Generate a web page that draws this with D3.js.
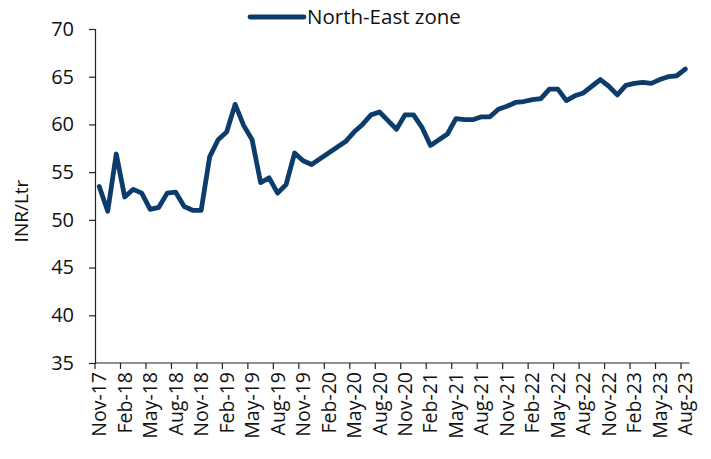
<!DOCTYPE html>
<html>
<head>
<meta charset="utf-8">
<script src="https://cdn.jsdelivr.net/npm/d3@7"></script>
<style>
  body { margin: 0; background: #fff; }
  text { font-family: "Open Sans", "Noto Sans", sans-serif; fill: #111; }
</style>
</head>
<body>
<div id="chart"></div>
<script>
// months Nov-17 .. Aug-23
const monthNames = ["Jan","Feb","Mar","Apr","May","Jun","Jul","Aug","Sep","Oct","Nov","Dec"];
const months = [];
for (let k = 0; k < 70; k++) {
  const m = (10 + k) % 12;
  const yr = 17 + Math.floor((10 + k) / 12);
  months.push(monthNames[m] + "-" + yr);
}

// price, INR/Ltr
const northEast = [
  53.5, 50.9, 56.9, 52.4, 53.2, 52.8, 51.1, 51.3, 52.8, 52.9,
  51.4, 51.0, 51.0, 56.6, 58.4, 59.2, 62.1, 59.9, 58.4, 53.9,
  54.4, 52.8, 53.7, 57.0, 56.2, 55.8, 56.4, 57.0, 57.6, 58.2,
  59.2, 60.0, 61.0, 61.3, 60.4, 59.5, 61.0, 61.0, 59.7, 57.8,
  58.4, 59.0, 60.6, 60.5, 60.5, 60.8, 60.8, 61.6, 61.9, 62.3,
  62.4, 62.6, 62.7, 63.7, 63.7, 62.5, 63.0, 63.3, 64.0, 64.7,
  64.0, 63.1, 64.1, 64.3, 64.4, 64.3, 64.7, 65.0, 65.1, 65.8
];

const yTicks = [35, 40, 45, 50, 55, 60, 65, 70];
const seriesName = "North-East zone";

const width = 711, height = 459;
const margin = {left: 95, right: 21.5, top: 29, bottom: 96};
const lineColor = "#0c3c6c";

const svg = d3.select("#chart").append("svg")
  .attr("width", width)
  .attr("height", height);

const x = d3.scaleBand()
  .domain(months)
  .range([margin.left, width - margin.right]);

const y = d3.scaleLinear()
  .domain([35, 70])
  .range([height - margin.bottom, margin.top]);

// y axis
const yAxis = svg.append("g")
  .attr("transform", `translate(${margin.left},0)`)
  .call(d3.axisLeft(y).tickValues(yTicks).tickSize(6).tickPadding(15));
yAxis.select(".domain").attr("stroke", "#222").attr("stroke-width", 1.2);
yAxis.selectAll(".tick line").attr("stroke", "#222").attr("stroke-width", 1.2);
yAxis.selectAll("text").style("font-size", "20px").attr("fill", "#111");

// x axis: ticks on category boundaries every 3 months
const tickMonths = months.filter((d, i) => i % 3 === 0);
const xg = svg.append("g").attr("transform", `translate(0,${y(35)})`);
xg.append("line")
  .attr("x1", margin.left).attr("x2", width - margin.right)
  .attr("stroke", "#222").attr("stroke-width", 1.2);
xg.selectAll(".xt").data(tickMonths).join("line")
  .attr("class", "xt")
  .attr("x1", d => x(d)).attr("x2", d => x(d))
  .attr("y1", 0).attr("y2", 6)
  .attr("stroke", "#222").attr("stroke-width", 1.2);
xg.selectAll(".xl").data(tickMonths).join("text")
  .attr("class", "xl")
  .attr("transform", d => `translate(${x(d) + x.bandwidth() / 2 + 7},9) rotate(-90)`)
  .attr("text-anchor", "end")
  .style("font-size", "19.5px")
  .text(d => d);

// y title
svg.append("text")
  .attr("transform", `translate(28,${(y(35) + y(70)) / 2 + 15}) rotate(-90)`)
  .attr("text-anchor", "middle")
  .style("font-size", "19px")
  .text("INR/Ltr");

// line
const line = d3.line()
  .x((d, i) => x(months[i]) + x.bandwidth() / 2)
  .y(d => y(d));

svg.append("path")
  .datum(northEast)
  .attr("fill", "none")
  .attr("stroke", lineColor)
  .attr("stroke-width", 4.8)
  .attr("stroke-linejoin", "round")
  .attr("stroke-linecap", "round")
  .attr("d", line);

// legend
const lg = svg.append("g").attr("transform", "translate(250,17)");
lg.append("line")
  .attr("x1", 0).attr("x2", 54)
  .attr("stroke", lineColor).attr("stroke-width", 4.8)
  .attr("stroke-linecap", "round");
lg.append("text")
  .attr("x", 57).attr("y", 7)
  .style("font-size", "20.5px")
  .text(seriesName);
</script>
</body>
</html>
